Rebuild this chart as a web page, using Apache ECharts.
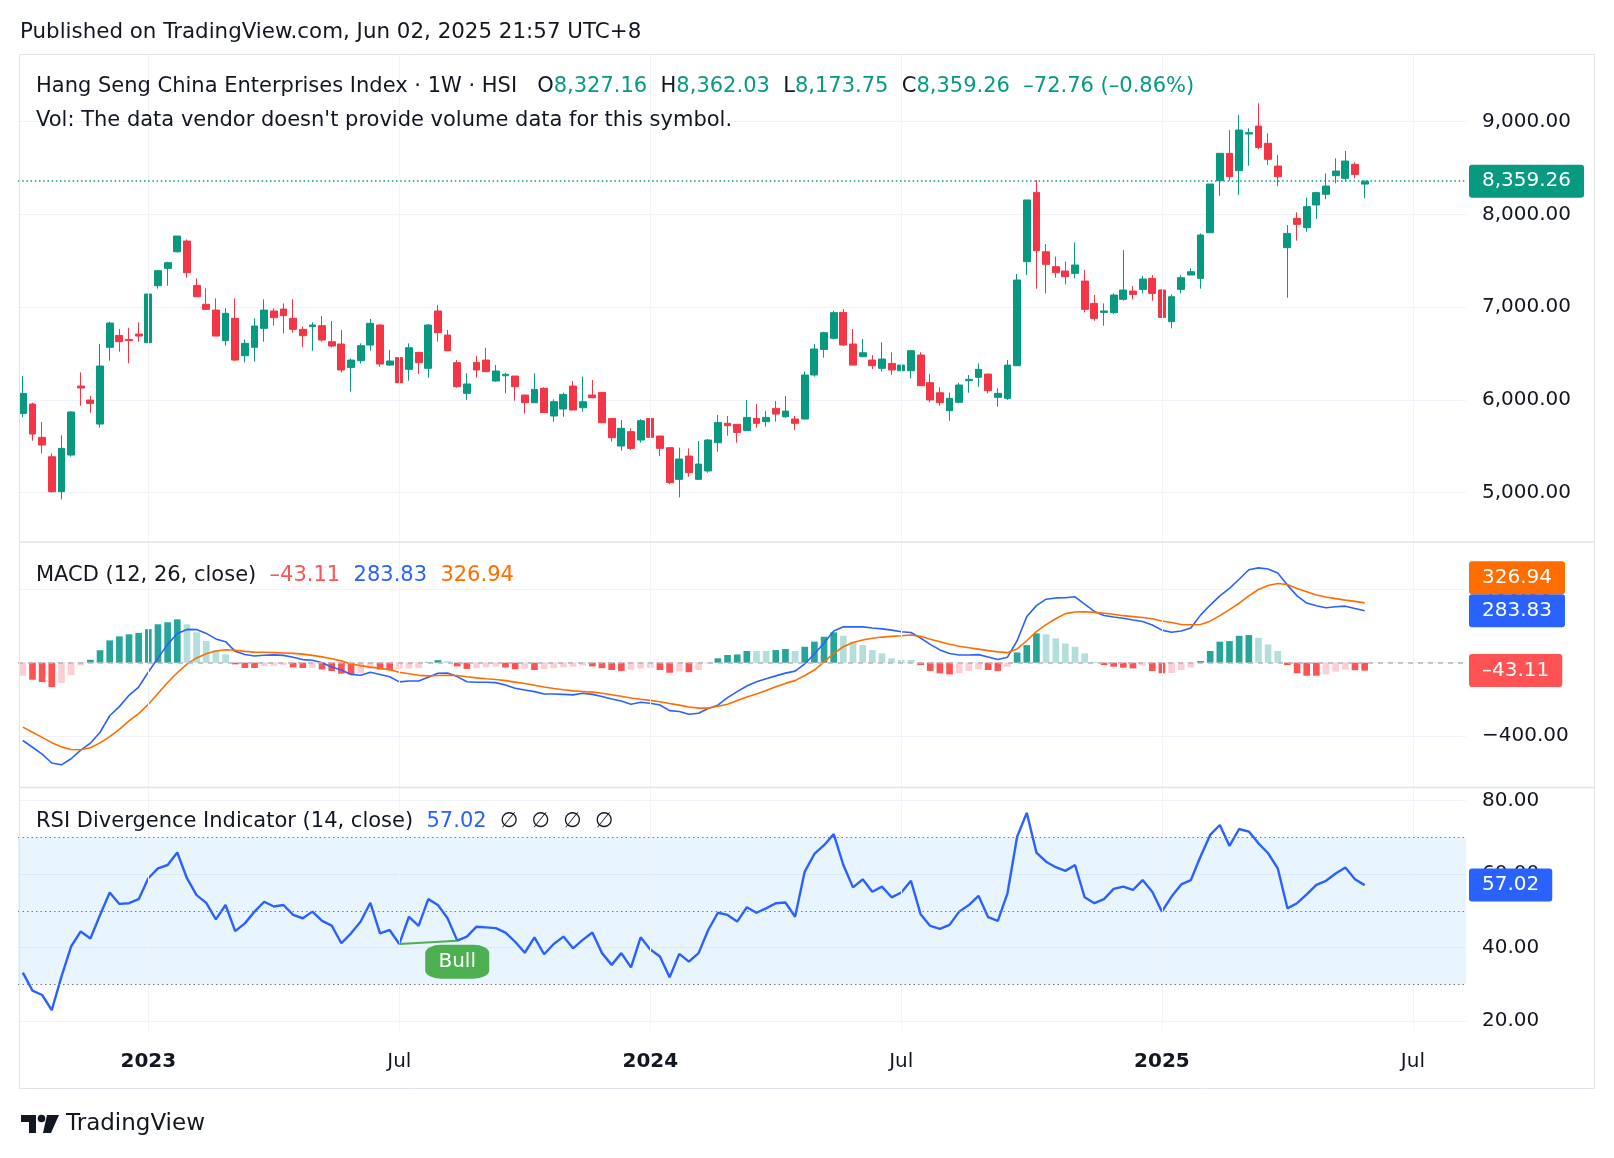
<!DOCTYPE html>
<html><head><meta charset="utf-8">
<script src="https://cdn.jsdelivr.net/npm/echarts@6/dist/echarts.min.js"></script>
<style>html,body{margin:0;padding:0;background:#fff}#c{width:1614px;height:1158px}</style>
</head><body><div id="c"></div>
<script>
// ---------------- DATA ----------------
const firstWeek = '2022-10-03';
const totalSlots = 150; // 140 weekly bars + empty future slots
const timeTickWeeks = ['2023-01-02','2023-07-03','2024-01-01','2024-07-01','2025-01-06','2025-07-07'];
const timeTickLabels = ['2023','Jul','2024','Jul','2025','Jul'];

const opens = [5855,5956,5597,5388,5011,5406,6150,5999,5740,6567,6696,6653,6711,6617,7232,7419,7598,7713,7235,7031,
6969,6639,6880,6477,6567,6772,6959,6980,6880,6761,6790,6801,6628,6603,6351,6423,6592,6808,6376,6456,
6330,6513,6341,6959,6700,6402,6071,6405,6430,6204,6261,6258,6053,5970,6125,5827,5902,6150,5916,6053,
6082,5801,5503,5658,5568,5801,5611,5485,5144,5395,5144,5234,5539,5748,5737,5669,5801,5766,5909,5819,
5794,5794,6269,6545,6664,6944,6603,6466,6430,6341,6394,6315,6315,6484,6186,6078,5884,5975,6208,6244,
6279,6028,6017,6369,7491,8238,7598,7437,7390,7365,7282,7041,6944,6941,7085,7174,7192,7311,7185,6844,
7192,7347,7311,7803,8364,8659,8472,8867,8953,8767,8522,7642,7958,7857,8102,8217,8418,8389,8540,8327.16];
const highs = [6258,5970,5762,5424,5618,5880,6297,6042,6603,6844,6765,6779,6837,7282,7401,7491,7767,7731,7311,7203,
7095,6988,7095,6653,6880,7085,6988,7041,7085,6790,6837,6905,6851,6754,6448,6610,6873,6815,6538,6635,
6610,6513,6819,7023,6754,6430,6287,6477,6563,6376,6294,6258,6053,6287,6136,6006,6078,6204,6251,6215,
6082,5801,5783,5694,5794,5801,5611,5485,5485,5478,5557,5579,5837,5827,5737,6000,5956,5880,5988,6042,
5827,6305,6603,6736,6962,6980,6765,6657,6484,6621,6513,6502,6538,6513,6279,6136,6078,6186,6269,6394,
6279,6125,6430,7358,8156,8371,7681,7545,7491,7699,7401,7131,7041,7149,7616,7228,7336,7347,7196,7138,
7347,7419,7796,8328,8659,8910,9072,8928,9198,8874,8641,7886,8023,8181,8245,8443,8605,8684,8562,8362.03];
const lows = [5812,5561,5424,5000,4928,5388,5938,5863,5701,6423,6520,6394,6628,6545,7200,7232,7588,7318,7113,6977,
6689,6585,6420,6405,6413,6628,6801,6718,6725,6567,6531,6628,6567,6297,6089,6394,6531,6358,6366,6161,
6208,6279,6240,6628,6531,6132,6000,6240,6305,6197,6071,5992,5855,5970,5863,5766,5819,5891,5873,6017,
5755,5550,5453,5460,5539,5579,5395,5093,4950,5172,5144,5216,5442,5615,5539,5669,5701,5712,5766,5809,
5676,5794,6251,6456,6653,6581,6376,6466,6333,6305,6269,6315,6233,6154,5974,5938,5776,5963,6078,6143,
6071,5927,6000,6369,7347,7199,7149,7318,7246,7311,6944,6854,6801,6926,7070,7085,7149,7070,6890,6772,
7149,7347,7200,7803,8202,8364,8209,8526,8705,8533,8306,7103,7717,7814,7951,8163,8335,8353,8389,8173.75];
const closes = [6071,5633,5514,5011,5478,5870,6129,5963,6366,6829,6628,6639,6689,7142,7394,7480,7767,7372,7113,6977,
6689,6934,6430,6610,6797,6969,6887,6908,6761,6693,6808,6646,6581,6323,6430,6585,6826,6387,6420,6186,
6563,6402,6808,6725,6531,6143,6172,6323,6305,6312,6276,6143,5970,6114,5863,5981,6060,5891,5981,6024,
5755,5593,5694,5478,5776,5597,5478,5108,5363,5216,5309,5568,5758,5722,5650,5812,5748,5812,5848,5880,
5748,6269,6549,6725,6941,6592,6376,6509,6369,6441,6323,6376,6531,6154,6000,5970,6017,6161,6222,6330,
6100,6071,6376,7293,8156,7609,7462,7372,7329,7455,6977,6880,6959,7131,7185,7138,7304,7149,6890,7113,
7318,7383,7778,8328,8659,8407,8910,8882,8723,8594,8407,7796,7893,8084,8235,8306,8468,8576,8432.02,8359.26];

const macdLine = [-425,-462,-500,-548,-558,-525,-478,-440,-380,-290,-240,-178,-133,-51,25,100,160,182,181,160,
130,115,62,45,37,41,43,40,30,17,13,0,-24,-40,-64,-69,-52,-64,-77,-105,
-100,-100,-80,-58,-56,-76,-104,-107,-107,-109,-122,-140,-149,-158,-171,-171,-173,-176,-167,-173,
-185,-198,-209,-227,-216,-222,-231,-262,-267,-282,-276,-250,-232,-191,-158,-127,-104,-88,-72,-57,
-46,-6,47,108,173,196,196,196,190,185,178,169,165,135,100,70,50,42,42,44,
31,18,30,120,252,312,347,354,355,360,320,280,258,250,243,233,225,206,178,166,
173,190,260,315,365,406,456,508,518,512,490,424,365,326,311,300,306,309,296,283.83];
const signalLine = [-352,-380,-408,-437,-460,-474,-476,-465,-438,-404,-364,-318,-278,-228,-168,-108,-55,-8,26,49,
64,71,68,62,58,57,55,53,51,47,40,32,22,10,-7,-16,-24,-30,-39,-52,
-60,-69,-72,-70,-69,-70,-77,-83,-88,-92,-98,-106,-114,-123,-133,-141,-148,-154,-157,-161,
-167,-175,-183,-193,-200,-206,-213,-223,-232,-242,-248,-248,-238,-227,-207,-188,-171,-152,-132,-113,
-98,-70,-40,4,51,87,110,124,134,140,144,147,151,144,128,114,101,90,82,74,
66,59,55,75,120,170,208,240,268,277,278,275,270,265,257,252,247,240,228,220,
209,207,209,227,257,290,325,365,400,422,433,427,405,388,370,359,350,342,335,326.94];
const histogram = [-71,-93,-106,-133,-111,-68,-15,16,68,122,144,155,163,183,210,221,237,210,166,119,
68,46,-9,-29,-29,-18,-17,-13,-26,-29,-27,-37,-46,-60,-64,-57,-35,-38,-39,-33,
-32,-30,3,14,8,-20,-34,-30,-25,-22,-26,-36,-33,-40,-35,-30,-25,-22,-15,-20,
-30,-40,-45,-38,-32,-28,-40,-55,-48,-52,-40,-5,24,42,45,64,64,64,69,75,
64,87,115,142,166,147,115,96,69,51,24,15,15,-13,-45,-58,-64,-58,-45,-35,
-40,-45,-22,56,96,160,155,133,105,87,51,5,-13,-22,-27,-31,-16,-45,-58,-56,
-40,-27,9,64,115,118,147,151,136,100,64,-13,-58,-71,-71,-64,-49,-38,-41,-43.11];
const rsi = [33.2,28.3,27.1,23.0,32.1,40.3,44.4,42.5,48.9,55.0,51.9,52.1,53.2,58.9,61.6,62.5,65.9,58.9,54.3,52.2,
47.7,51.6,44.5,46.6,49.8,52.5,51.2,51.6,48.9,48.0,49.8,47.3,46.0,41.2,43.9,47.1,52.2,43.9,44.8,41.0,
48.4,45.9,53.2,51.6,48.0,41.9,43.0,45.7,45.5,45.3,44.1,41.6,38.6,42.8,38.2,41.0,43.0,39.8,42.1,44.1,
38.5,35.3,38.5,34.6,42.8,39.5,37.6,31.9,38.3,36.2,38.5,44.8,49.5,48.9,47.1,51.0,49.5,50.7,52.1,52.3,
48.4,60.7,65.5,67.9,70.9,62.5,56.4,58.6,55.2,56.6,53.7,55.0,58.2,49.1,45.9,45.1,46.2,49.8,51.6,54.1,
48.3,47.3,54.8,70.2,76.7,65.9,63.4,61.9,60.9,62.5,53.7,52.1,53.2,56.0,56.6,55.7,58.4,55.2,49.8,53.9,
57.2,58.4,64.8,70.7,73.4,67.7,72.3,71.6,68.4,65.7,61.6,50.7,52.1,54.5,57.1,58.2,60.2,61.8,58.6,57.02];
const rsiBands = [70, 50, 30];
const bullFrom = 39, bullTo = 45;

// ---------------- BUILD ----------------
const F = '"DejaVu Sans", sans-serif';
const TXT = '#131722';
const UP = '#089981', DOWN = '#f23645';
const dates = [];
const t0 = Date.parse(firstWeek + 'T00:00:00Z');
for (let i = 0; i < totalSlots; i++) dates.push(new Date(t0 + i * 604800000).toISOString().slice(0, 10));

const n = closes.length, L = n - 1;
const fmt = v => Math.abs(v).toLocaleString('en-US', {minimumFractionDigits: 2, maximumFractionDigits: 2});
const sfmt = v => (v < 0 ? '\u2212' : '') + fmt(v);   // axis style minus
const dfmt = v => (v < 0 ? '\u2013' : '') + fmt(v);   // legend / box style minus

const candleData = opens.map((o, i) => [o, closes[i], lows[i], highs[i]]);
const histData = histogram.map((v, i) => {
  const rising = i === 0 || histogram[i - 1] < v;
  const c = v >= 0 ? (rising ? '#26a69a' : '#b2dfdb') : (rising ? '#ffcdd2' : '#ff5252');
  return {value: v, itemStyle: {color: c}};
});

const chg = closes[L] - closes[L - 1];
const pct = chg / closes[L - 1] * 100;

const G = {left: 18, width: 1448};
const grids = [
  {left: G.left, width: G.width, top: 28.95, height: 556.5},   // price 4000..10000
  {left: G.left, width: G.width, top: 516.3, height: 292.8},   // MACD -800..800
  {left: G.left, width: G.width, top: 727.3, height: 367.2},   // RSI 0..100
  {left: G.left, width: G.width, top: 54, height: 977}         // time axis / vertical grid
];
const axisLbl = {fontSize: 20, fontFamily: F, color: TXT, margin: 16, showMinLabel: false, showMaxLabel: false, formatter: v => sfmt(v)};
const splitL = {show: true, showMinLine: false, showMaxLine: false, lineStyle: {color: '#f0f3fa', width: 1}};
const yBase = {type: 'value', position: 'right', scale: false, axisLine: {show: false}, axisTick: {show: false}, splitLine: splitL, axisLabel: axisLbl};
const HIDDEN = {color: 'rgba(0,0,0,0)', width: 0};

const boxLabel = (bg, text, offset) => ({
  show: true, position: 'end', distance: 3, formatter: text, color: '#fff', backgroundColor: bg,
  padding: [7, 13, 6, 13], lineHeight: 20, borderRadius: 3, fontSize: 20, fontFamily: F, offset: offset || [0, 0]
});
const lg = (sz, col) => ({fontSize: sz, fontFamily: F, color: col});

const option = {
  animation: false,
  backgroundColor: '#fff',
  grid: grids,
  xAxis: [0, 1, 2, 3].map(i => ({
    type: 'category', gridIndex: i, data: dates, boundaryGap: true,
    show: i === 3,
    axisLine: {show: false}, axisTick: {show: false}, splitLine: {show: false},
    axisLabel: i === 3 ? {
      margin: 21,
      interval: (idx, val) => timeTickWeeks.indexOf(val) >= 0,
      formatter: val => {
        const t = timeTickLabels[timeTickWeeks.indexOf(val)];
        return /^\d{4}$/.test(t) ? '{b|' + t + '}' : '{n|' + t + '}';
      },
      rich: {b: {fontWeight: 'bold', fontSize: 20, fontFamily: F, color: TXT}, n: {fontSize: 20, fontFamily: F, color: TXT}}
    } : {show: false}
  })),
  yAxis: [
    Object.assign({}, yBase, {gridIndex: 0, min: 4000, max: 10000, interval: 1000}),
    Object.assign({}, yBase, {gridIndex: 1, min: -800, max: 800, interval: 400}),
    Object.assign({}, yBase, {gridIndex: 2, min: 0, max: 100, interval: 20}),
    {type: 'value', gridIndex: 3, min: 0, max: 1, show: false, splitLine: {show: false}}
  ],
  title: [
    {left: 20, top: 22, padding: 0, text: 'Published on TradingView.com, Jun 02, 2025 21:57 UTC+8',
     textStyle: {fontSize: 21.4, fontWeight: 'normal', fontFamily: F, color: TXT}},
    {left: 36, top: 76, padding: 0,
     text: '{k|Hang Seng China Enterprises Index \u00b7 1W \u00b7 HSI}   {k|O}{g|' + fmt(opens[L]) + '}  {k|H}{g|' + fmt(highs[L]) +
           '}  {k|L}{g|' + fmt(lows[L]) + '}  {k|C}{g|' + fmt(closes[L]) + '}  {g|' + dfmt(chg) + ' (' + dfmt(pct) + '%)}',
     textStyle: Object.assign(lg(21, TXT), {fontWeight: 'normal', rich: {k: lg(21, TXT), g: lg(21, UP)}})},
    {left: 36, top: 110, padding: 0, text: "Vol: The data vendor doesn't provide volume data for this symbol.",
     textStyle: Object.assign(lg(21, TXT), {fontWeight: 'normal'})},
    {left: 36, top: 565, padding: 0,
     text: '{k|MACD (12, 26, close)}  {r|' + dfmt(histogram[L]) + '}  {b|' + dfmt(macdLine[L]) + '}  {o|' + dfmt(signalLine[L]) + '}',
     textStyle: Object.assign(lg(21, TXT), {fontWeight: 'normal',
       rich: {k: lg(21, TXT), r: lg(21, '#ff5252'), b: lg(21, '#2962ff'), o: lg(21, '#ff6d00')}})},
    {left: 36, top: 811, padding: 0,
     text: '{k|RSI Divergence Indicator (14, close)}  {b|' + dfmt(rsi[L]) + '}  {k|\u2205}  {k|\u2205}  {k|\u2205}  {k|\u2205}',
     textStyle: Object.assign(lg(21, TXT), {fontWeight: 'normal', rich: {k: lg(21, TXT), b: lg(21, '#2962ff')}})}
  ],
  series: [
    {type: 'line', xAxisIndex: 3, yAxisIndex: 3, data: [], silent: true, z: 1,
     markLine: {silent: true, symbol: ['none', 'none'], label: {show: false}, animation: false,
       lineStyle: {color: '#f0f3fa', width: 1, type: 'solid'},
       data: timeTickWeeks.map(w => ({xAxis: w}))}},
    {type: 'candlestick', xAxisIndex: 0, yAxisIndex: 0, data: candleData, barWidth: '76%', z: 3,
     itemStyle: {color: UP, color0: DOWN, borderColor: UP, borderColor0: DOWN, borderWidth: 1},
     markLine: {silent: true, symbol: ['none', 'none'], animation: false,
       data: [{yAxis: closes[L], lineStyle: {color: UP, width: 1.5, type: [1.5, 2.7]},
               label: boxLabel(UP, fmt(closes[L]))}]}},
    {type: 'bar', xAxisIndex: 1, yAxisIndex: 1, data: histData, barWidth: '69%', z: 2,
     markLine: {silent: true, symbol: ['none', 'none'], animation: false,
       data: [{yAxis: 0, lineStyle: {color: '#b2b5be', width: 1.5, type: [5, 5]}, label: {show: false}},
              {yAxis: histogram[L], lineStyle: HIDDEN, label: boxLabel('#ff5252', dfmt(histogram[L]))}]}},
    {type: 'line', xAxisIndex: 1, yAxisIndex: 1, data: macdLine, showSymbol: false, z: 4,
     lineStyle: {color: '#2962ff', width: 1.6},
     markLine: {silent: true, symbol: ['none', 'none'], animation: false,
       data: [{yAxis: macdLine[L], lineStyle: HIDDEN, label: boxLabel('#2962ff', dfmt(macdLine[L]))}]}},
    {type: 'line', xAxisIndex: 1, yAxisIndex: 1, data: signalLine, showSymbol: false, z: 4,
     lineStyle: {color: '#ff6d00', width: 1.6},
     markLine: {silent: true, symbol: ['none', 'none'], animation: false,
       data: [{yAxis: signalLine[L], lineStyle: HIDDEN, label: boxLabel('#ff6d00', dfmt(signalLine[L]), [0, -25])}]}},
    {type: 'line', xAxisIndex: 2, yAxisIndex: 2, data: rsi, showSymbol: false, z: 4,
     lineStyle: {color: '#2962ff', width: 2.4},
     markArea: {silent: true, itemStyle: {color: 'rgba(33,150,243,0.1)'}, data: [[{yAxis: rsiBands[0]}, {yAxis: rsiBands[2]}]]},
     markLine: {silent: true, symbol: ['none', 'none'], animation: false,
       data: rsiBands.map(b => ({yAxis: b, lineStyle: {color: '#787b86', width: 1, type: [1.5, 3]}, label: {show: false}}))
         .concat([
           [{coord: [dates[bullFrom], rsi[bullFrom]], lineStyle: {color: '#4caf50', width: 2, type: 'solid'}, label: {show: false}},
            {coord: [dates[bullTo], rsi[bullTo]]}],
           {yAxis: rsi[L], lineStyle: HIDDEN, label: boxLabel('#2962ff', fmt(rsi[L]))}
         ])},
     markPoint: {silent: true, animation: false,
       data: [{coord: [dates[bullTo], rsi[bullTo]], symbol: 'roundRect', symbolSize: [64, 34], symbolOffset: [0, 21],
               itemStyle: {color: '#4caf50'},
               label: {show: true, formatter: 'Bull', color: '#fff', fontSize: 20, fontFamily: F}}]}}
  ],
  graphic: [
    {type: 'rect', silent: true, z: 50, shape: {x: 19.5, y: 54.5, width: 1575, height: 1034},
     style: {fill: null, stroke: '#e0e3eb', lineWidth: 1}},
    {type: 'line', silent: true, z: 50, shape: {x1: 19.5, y1: 542, x2: 1594.5, y2: 542}, style: {stroke: '#e0e3eb', lineWidth: 1.5}},
    {type: 'line', silent: true, z: 50, shape: {x1: 19.5, y1: 787.5, x2: 1594.5, y2: 787.5}, style: {stroke: '#e0e3eb', lineWidth: 1.5}},
    {type: 'polygon', silent: true, shape: {points: [[21, 1115], [36, 1115], [36, 1133], [29, 1133], [29, 1122], [21, 1122]]}, style: {fill: TXT}},
    {type: 'circle', silent: true, shape: {cx: 41.5, cy: 1118.5, r: 3.8}, style: {fill: TXT}},
    {type: 'polygon', silent: true, shape: {points: [[47, 1115], [59, 1115], [51, 1133], [43, 1133]]}, style: {fill: TXT}},
    {type: 'text', silent: true, style: {text: 'TradingView', x: 66, y: 1124, verticalAlign: 'middle', fontSize: 23, fontFamily: F, fill: TXT}}
  ]
};
const chart = echarts.init(document.getElementById('c'), null, {renderer: 'canvas'});
chart.setOption(option);
</script></body></html>
